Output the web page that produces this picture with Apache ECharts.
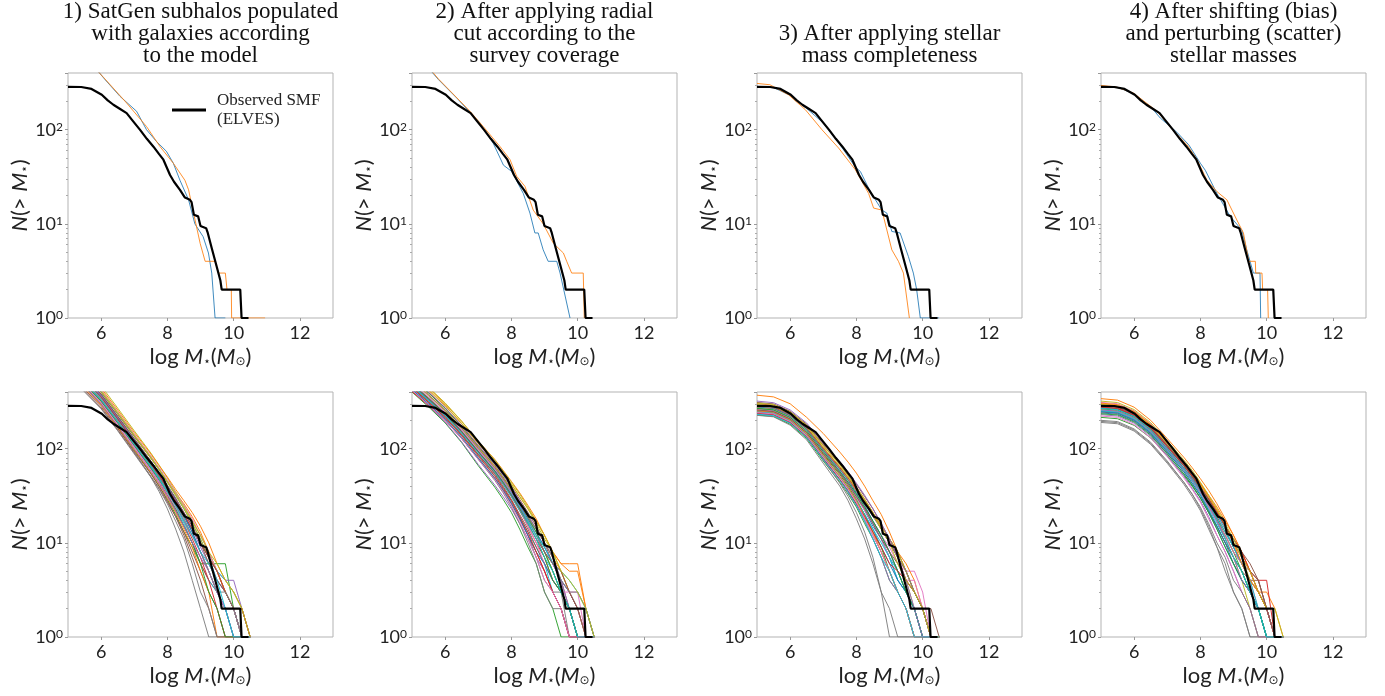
<!DOCTYPE html>
<html><head><meta charset="utf-8">
<script src="https://cdn.jsdelivr.net/npm/echarts@6/dist/echarts.min.js"></script>
<style>html,body{margin:0;padding:0;background:#fff}#c{width:1385px;height:696px}</style>
</head><body><div id="c"></div>
<script>
// ---------------- data ----------------
const TITLES = [
  "1) SatGen subhalos populated\nwith galaxies according\nto the model",
  "2) After applying radial\ncut according to the\nsurvey coverage",
  "3) After applying stellar\nmass completeness",
  "4) After shifting (bias)\nand perturbing (scatter)\nstellar masses"
];
const LEGEND_NAME = "Observed SMF\n(ELVES)";
const X_TICKS = [6, 8, 10, 12];
const Y_MINOR = [2,3,4,5,6,7,8,9,20,30,40,50,60,70,80,90,200,300];

// observed SMF (ELVES), same in every panel
const OBS_X = [5, 5.4, 5.71, 6.02, 6.2, 6.37, 6.55, 6.77, 6.95, 7.17, 7.38, 7.58, 7.75, 7.88, 8.08, 8.2, 8.38, 8.53, 8.68, 8.73, 8.8, 8.93, 9.0, 9.17, 9.22, 9.34, 9.49, 9.6, 9.64, 10.2, 10.24, 10.45];
const OBS_Y = [285, 284, 271, 235, 205, 184, 168, 150, 125, 100, 80, 66, 55, 48, 33, 28, 23, 19, 18, 17, 12.5, 12, 9.5, 9, 8, 5.5, 3.5, 2.5, 2, 2, 1, 1];

// top row: two single realisations per panel
const T1_BLUE_X = [5, 5.5, 5.95, 6.12, 6.57, 7.07, 7.37, 7.67, 7.97, 8.18, 8.38, 8.64, 8.83, 9.08, 9.24, 9.34, 9.44, 9.75];
const T1_BLUE_Y = [950, 610, 400, 340, 226, 157, 100, 75, 59, 44, 29, 18, 10, 7.3, 4.9, 3, 1, 1];
const T1_ORANGE_X = [5, 5.5, 5.95, 6.07, 6.77, 7.37, 7.78, 8.18, 8.53, 8.64, 8.79, 8.99, 9.14, 9.44, 9.54, 9.75, 9.8, 9.93, 9.94, 10.95];
const T1_ORANGE_Y = [900, 590, 400, 360, 192, 108, 66, 44, 29, 23, 13, 6.2, 4, 4, 3, 3, 2, 2, 1, 1];
const T2_BLUE_X = [5, 5.5, 5.8, 6.35, 7.05, 7.45, 7.76, 8.01, 8.36, 8.56, 8.71, 8.81, 8.96, 9.11, 9.37, 9.47, 9.77];
const T2_BLUE_Y = [700, 450, 340, 217, 118, 72, 42, 36, 21, 13, 8, 8, 5.3, 4, 4, 3, 1];
const T2_ORANGE_X = [5, 5.5, 5.8, 6.75, 7.15, 7.66, 7.96, 8.16, 8.41, 8.66, 8.96, 9.27, 9.57, 9.67, 9.82, 10.17, 10.2];
const T2_ORANGE_Y = [700, 460, 345, 157, 108, 66, 48, 32, 25, 14, 10, 6.2, 4.9, 4, 3, 3, 1];
const T3_BLUE_X = [5, 5.5, 6.0, 6.5, 7.0, 7.5, 7.97, 8.12, 8.42, 8.77, 8.92, 9.07, 9.32, 9.57, 9.72, 9.82, 9.93, 10.5];
const T3_BLUE_Y = [288, 280, 232, 168, 118, 70, 40, 36, 22, 14, 13, 8.3, 8, 4.5, 3, 2, 1, 1];
const T3_ORANGE_X = [5, 5.39, 5.95, 6.46, 6.96, 7.46, 7.97, 8.37, 8.52, 8.77, 9.07, 9.27, 9.42, 9.6];
const T3_ORANGE_Y = [310, 300, 235, 163, 100, 64, 37.5, 21, 14.7, 14, 5.3, 4, 3, 1];
const T4_BLUE_X = [5, 5.5, 6.0, 6.5, 6.79, 7.29, 7.65, 8.0, 8.15, 8.5, 8.9, 9.25, 9.4, 9.6, 9.8, 9.82];
const T4_BLUE_Y = [292, 282, 240, 175, 133, 94, 69, 44, 37, 21, 12, 8.6, 5.3, 3, 3, 1];
const T4_ORANGE_X = [5, 5.45, 5.98, 6.69, 7.29, 7.6, 7.9, 8.2, 8.5, 8.8, 9.1, 9.3, 9.46, 9.66, 9.67, 9.86, 9.88, 10.03, 10.05];
const T4_ORANGE_Y = [295, 285, 245, 157, 89, 69, 48, 29, 22, 18, 11, 8, 4, 4, 3, 3, 2, 2, 1];

// bottom row: many realisations on a shared mass grid
const GRID_X = [5, 5.5, 6, 6.5, 7, 7.5, 7.75, 8, 8.25, 8.5, 8.75, 9, 9.25, 9.5, 9.75, 10, 10.25, 10.5];
const B1_LINES = [
  [820,540,360,210,120,70,52,38,27,19,13,8,5,3,2,1,1,1],
  [880,590,395,232,134,79,60,45,34,26,19,13,8,5,3,2,1,1],
  [700,460,300,172,97,55,40,29,20,13,9,6,6,6,6,2,1,1],
  [760,500,330,195,112,64,48,35,25,17,11,7,4,3,2,1,1,1],
  [850,560,370,215,124,72,54,40,29,21,15,10,7,5,4,4,2,1],
  [620,410,270,158,90,51,38,27,19,13,8,5,3,2,1,1,1,1],
  [780,520,345,205,118,68,51,37,26,18,12,8,5,3,2,2,1,1],
  [680,450,295,168,92,50,35,23,14,8,4,2,1,1,1,1,1,1],
  [1050,700,465,270,155,90,67,49,35,25,17,12,8,5,3,2,2,1],
  [740,490,325,190,110,63,47,34,24,16,10,6,4,3,2,1,1,1],
  [900,600,400,235,136,80,60,44,32,23,16,11,7,4,3,2,1,1],
  [660,440,290,170,98,56,42,30,21,14,9,5,3,1,1,1,1,1],
  [800,530,350,205,117,67,50,37,27,19,14,10,7,5,3,2,1,1],
  [720,478,315,185,106,61,45,32,22,15,10,6,4,2,1,1,1,1],
  [830,550,365,212,122,71,53,39,28,20,14,9,6,4,3,2,1,1],
  [640,425,280,164,94,54,40,28,19,12,7,4,2,1,1,1,1,1],
  [960,640,425,248,143,84,63,47,34,25,18,12,8,5,3,2,1,1],
  [600,400,265,155,88,50,37,26,17,11,6,3,2,1,1,1,1,1],
  [920,610,405,238,138,80,60,44,32,23,16,11,7,5,3,2,1,1],
  [790,525,348,203,116,67,50,37,27,19,14,10,7,5,4,3,2,1],
  [860,570,378,220,127,74,55,40,29,20,13,8,5,3,2,2,1,1],
  [990,660,440,258,149,88,66,50,37,28,21,15,10,6,4,3,2,1],
  [730,485,320,188,108,62,46,33,23,15,10,6,3,2,1,1,1,1],
  [810,535,355,208,119,69,52,38,28,20,14,10,7,5,3,2,2,1],
  [680,455,300,176,101,58,43,31,22,15,10,7,5,3,2,1,1,1],
  [870,575,380,222,128,74,55,41,30,21,15,10,6,4,3,2,1,1],
  [700,468,308,181,104,60,45,33,24,17,12,8,5,3,2,2,1,1],
  [760,505,335,196,112,65,49,36,26,18,12,8,5,3,3,2,1,1],
  [940,625,415,243,140,82,61,45,33,24,17,12,8,6,4,3,2,1],
  [750,498,328,192,110,64,48,35,25,17,12,8,6,4,2,1,1,1]
];
const B2_LINES = [
  [470,330,230,150,92,58,44,33,24,17,12,8,5,3,2,1,1,1],
  [640,440,300,195,120,77,59,45,34,25,18,12,8,6,6,6,2,1],
  [400,278,188,116,66,39,29,21,14,9,6,3,2,1,1,1,1,1],
  [440,310,215,140,87,55,42,31,22,15,10,7,4,3,2,1,1,1],
  [410,285,192,118,68,41,31,23,16,11,7,5,3,2,1,1,1,1],
  [560,392,270,175,108,69,53,40,29,21,15,10,6,4,2,1,1,1],
  [500,350,243,158,98,62,47,35,26,18,13,9,6,4,3,2,1,1],
  [450,315,218,140,85,52,39,28,19,12,7,4,3,3,1,1,1,1],
  [520,365,252,163,100,63,48,36,26,18,12,8,5,3,2,1,1,1],
  [430,300,206,132,80,49,37,27,19,13,9,6,3,2,1,1,1,1],
  [480,338,235,152,94,59,45,34,25,18,13,9,6,4,3,2,2,1],
  [600,415,285,184,113,72,55,42,31,23,17,12,8,6,5,5,2,1],
  [560,390,268,172,105,66,50,37,27,19,13,8,5,3,2,1,1,1],
  [405,288,200,128,78,48,36,26,18,12,8,5,3,2,1,1,1,1],
  [490,344,238,155,96,61,46,34,25,17,12,8,6,4,2,1,1,1],
  [455,320,222,143,87,54,40,29,20,14,9,6,4,3,2,1,1,1],
  [510,355,245,158,97,60,45,33,23,15,10,6,4,3,3,3,1,1],
  [420,294,202,128,77,46,34,24,16,10,6,3,2,2,1,1,1,1],
  [620,425,290,186,114,72,55,42,31,23,16,11,8,5,3,2,1,1],
  [470,332,230,149,92,58,44,33,24,17,12,9,6,5,4,3,2,1],
  [425,298,205,131,79,48,36,26,18,12,8,6,4,3,2,1,1,1],
  [540,375,258,167,103,65,49,37,27,19,14,10,7,5,3,2,1,1],
  [490,342,236,152,93,58,44,32,23,16,11,7,4,3,2,1,1,1],
  [445,310,213,137,83,51,38,28,19,13,8,5,3,2,1,1,1,1],
  [580,400,274,176,108,68,52,39,28,20,14,10,7,4,3,2,1,1],
  [480,336,232,150,92,57,43,32,23,16,11,8,6,5,3,2,1,1],
  [415,292,200,128,77,47,35,25,17,11,7,4,3,2,1,1,1,1],
  [530,372,256,165,101,63,48,36,26,19,14,10,7,4,3,3,2,1],
  [660,450,306,196,120,76,58,44,33,24,17,12,8,5,4,3,2,1],
  [460,325,225,146,90,56,42,31,22,16,11,7,5,3,2,1,1,1]
];
const B3_LINES = [
  [265,255,212,150,90,55,42,31,22,15,11,7,4,3,2,1,1,1],
  [370,355,300,215,145,92,72,55,40,28,20,13,8,5,3,2,1,1],
  [228,220,182,128,74,44,33,24,16,11,7,4,3,2,1,1,1,1],
  [300,290,243,176,108,68,52,39,29,21,15,11,7,5,3,2,1,1],
  [280,270,224,160,96,58,44,33,24,17,12,8,5,3,2,1,1,1],
  [240,232,192,135,79,47,35,26,18,12,8,5,3,2,1,1,1,1],
  [255,246,206,148,88,54,41,30,22,16,12,9,6,5,5,3,1,1],
  [245,236,194,135,76,43,31,21,13,7,3,1,1,1,1,1,1,1],
  [290,280,234,168,102,64,49,37,27,20,14,10,7,4,2,1,1,1],
  [270,260,217,155,93,57,43,32,23,16,11,7,4,3,2,1,1,1],
  [250,242,200,141,83,50,38,28,20,14,9,6,4,3,2,1,1,1],
  [275,265,222,160,98,61,47,36,27,20,15,11,8,6,4,2,1,1],
  [260,250,208,147,87,53,40,29,20,13,9,5,3,2,1,1,1,1],
  [285,275,230,166,101,63,49,37,28,20,14,10,7,4,3,2,1,1],
  [235,227,188,132,77,46,34,25,17,11,7,4,3,2,1,1,1,1],
  [310,299,250,182,112,71,55,42,31,23,16,11,8,5,3,2,1,1],
  [262,252,210,150,90,55,42,31,23,16,11,7,5,4,4,2,1,1],
  [226,218,178,124,70,40,28,18,11,6,3,2,1,1,1,1,1,1],
  [305,294,246,178,108,68,52,39,29,21,15,11,8,5,3,2,1,1],
  [248,240,199,140,83,50,38,28,20,14,10,7,5,3,2,1,1,1],
  [278,268,224,161,97,60,46,34,25,17,12,8,5,3,2,2,1,1],
  [252,244,202,143,85,51,39,28,19,13,8,5,3,2,1,1,1,1],
  [268,258,215,154,93,57,44,33,24,17,12,8,5,3,2,1,1,1],
  [238,230,190,134,79,47,36,26,19,13,9,6,5,4,3,2,1,1],
  [320,308,258,187,115,73,57,43,32,23,16,11,7,4,2,1,1,1],
  [258,248,207,148,89,55,42,31,23,16,11,8,6,4,3,2,2,1],
  [242,234,194,137,81,49,37,27,18,12,8,5,3,2,1,1,1,1],
  [282,272,228,163,98,61,47,35,26,19,14,10,7,5,3,2,1,1],
  [295,285,238,172,104,65,50,38,28,20,14,10,6,4,3,2,1,1],
  [232,224,186,131,77,46,35,25,17,11,7,5,3,2,1,1,1,1]
];
const B4_LINES = [
  [270,262,222,160,100,62,48,36,26,18,11,7,5,3,2,1,1,1],
  [340,328,276,200,128,81,63,48,36,26,18,12,8,5,3,2,1,1],
  [215,208,177,130,84,52,40,30,21,15,10,7,5,3,2,1,1,1],
  [250,242,205,150,96,60,46,34,24,17,12,8,6,4,3,2,1,1],
  [290,280,237,172,110,69,53,40,29,20,14,9,6,4,3,2,1,1],
  [245,237,200,145,92,57,43,32,22,15,10,7,5,4,4,2,1,1],
  [310,300,253,184,118,74,57,43,31,22,15,10,6,4,2,1,1,1],
  [190,184,154,111,70,42,31,22,14,9,5,3,2,1,1,1,1,1],
  [260,251,213,155,98,61,47,35,25,17,11,7,4,2,1,1,1,1],
  [280,270,229,166,106,66,51,38,28,20,14,9,6,4,3,2,1,1],
  [240,232,196,142,89,54,41,30,21,14,9,6,4,3,2,1,1,1],
  [300,289,245,178,114,72,56,43,32,24,17,12,8,5,3,3,2,1],
  [265,256,217,158,100,62,48,36,26,18,12,8,5,3,2,1,1,1],
  [285,275,233,170,108,68,52,39,29,21,15,10,7,5,4,4,1,1],
  [230,222,187,135,85,51,38,28,19,12,8,5,3,2,1,1,1,1],
  [275,266,225,164,104,65,50,37,27,19,13,9,6,5,4,2,1,1],
  [255,247,209,152,97,60,46,34,24,17,12,8,6,4,3,2,1,1],
  [200,194,162,117,74,44,33,23,15,9,6,3,2,1,1,1,1,1],
  [295,285,241,175,112,70,54,41,30,22,15,10,7,4,3,2,1,1],
  [268,259,219,159,101,63,48,36,26,18,13,9,6,4,2,1,1,1],
  [248,240,202,147,93,57,43,32,22,15,10,6,4,3,2,1,1,1],
  [305,294,249,181,116,73,56,42,31,22,15,10,6,4,3,2,1,1],
  [235,228,192,139,88,54,41,30,21,14,9,6,4,3,2,1,1,1],
  [278,268,227,165,105,66,51,39,29,21,15,11,8,5,3,2,1,1],
  [258,250,211,154,98,61,47,35,25,17,11,7,4,3,2,2,1,1],
  [288,278,235,171,109,68,52,39,29,21,15,11,8,6,4,2,1,1],
  [222,215,180,130,82,49,37,27,18,12,8,5,3,2,1,1,1,1],
  [195,189,158,114,72,44,33,24,16,10,7,4,3,2,1,1,1,1],
  [320,309,260,189,121,76,59,44,32,23,16,11,7,5,3,2,2,1],
  [252,244,206,150,95,59,45,33,23,16,11,7,5,3,2,1,1,1]
];

// ---------------- layout / style ----------------
const TAB10 = ['#1f77b4','#ff7f0e','#2ca02c','#d62728','#9467bd','#8c564b','#e377c2','#7f7f7f','#bcbd22','#17becf'];
const COL_LEFT = [68, 412, 757, 1101];
const ROW_TOP = [73, 392];
const PW = 265, PH = 245;
const SANS = 'Lato';
const SERIF = 'Liberation Serif';

const pairs = (xs, ys) => xs.map((x, i) => [x, ys[i]]);
const TOP_LINES = [
  [pairs(T1_BLUE_X, T1_BLUE_Y), pairs(T1_ORANGE_X, T1_ORANGE_Y)],
  [pairs(T2_BLUE_X, T2_BLUE_Y), pairs(T2_ORANGE_X, T2_ORANGE_Y)],
  [pairs(T3_BLUE_X, T3_BLUE_Y), pairs(T3_ORANGE_X, T3_ORANGE_Y)],
  [pairs(T4_BLUE_X, T4_BLUE_Y), pairs(T4_ORANGE_X, T4_ORANGE_Y)]
];
const BOTTOM_LINES = [B1_LINES, B2_LINES, B3_LINES, B4_LINES].map(set => set.map(ys => pairs(GRID_X, ys)));
const OBS = pairs(OBS_X, OBS_Y);

const grids = [], xAxes = [], yAxes = [], series = [], graphics = [];
const subStyle = {fontSize: 12, fontFamily: 'DejaVu Sans', verticalAlign: 'bottom', color: '#222'};
const italic = {fontStyle: 'italic', fontFamily: SANS, fontSize: 22, color: '#222'};
for (let r = 0; r < 2; r++) {
  for (let c = 0; c < 4; c++) {
    const idx = r * 4 + c;
    grids.push({left: COL_LEFT[c], top: ROW_TOP[r], width: PW, height: PH, show: true,
      borderColor: '#b3b3b3', borderWidth: 1, backgroundColor: 'transparent'});
    xAxes.push({gridIndex: idx, type: 'value', min: 5, max: 13,
      axisLine: {show: false}, splitLine: {show: false},
      axisTick: {show: true, customValues: X_TICKS, length: 3, lineStyle: {color: '#999'}},
      axisLabel: {customValues: X_TICKS, fontFamily: SANS, fontSize: 18, color: '#222', margin: 6},
      name: 'log {i|M}{s|⋆}({i|M}{s|⊙})', nameLocation: 'middle', nameGap: 28,
      nameTextStyle: {fontFamily: SANS, fontSize: 22, color: '#222', rich: {i: italic, s: subStyle}}
    });
    yAxes.push({gridIndex: idx, type: 'log', logBase: 10, min: 1, max: 400,
      axisLine: {show: false}, splitLine: {show: false},
      axisTick: {show: true, length: 3, lineStyle: {color: '#999'}},
      axisLabel: {margin: 5, formatter: v => {
          const e = Math.log10(v), k = Math.round(e);
          return Math.abs(e - k) < 1e-6 ? '{b|10}{s|' + k + '}' : '';
        },
        rich: {b: {fontFamily: SANS, fontSize: 18, color: '#222'},
               s: {fontFamily: SANS, fontSize: 12, color: '#222', verticalAlign: 'top'}}},
      name: '{i|N}(> {i|M}{s|⋆})', nameLocation: 'middle', nameGap: 36,
      nameTextStyle: {fontFamily: SANS, fontSize: 22, color: '#222', rich: {i: italic, s: subStyle}}
    });
    const lines = r === 0 ? TOP_LINES[c] : BOTTOM_LINES[c];
    lines.forEach((d, k) => {
      series.push({type: 'line', name: 'r' + idx + '_' + k, xAxisIndex: idx, yAxisIndex: idx,
        data: d, showSymbol: false, symbol: 'none', silent: true, clip: true,
        lineStyle: {width: 1, color: TAB10[k % 10], opacity: r === 0 ? 0.85 : 0.95},
        itemStyle: {color: TAB10[k % 10]}, z: 2});
    });
    series.push({type: 'line', name: LEGEND_NAME, xAxisIndex: idx, yAxisIndex: idx,
      data: OBS, showSymbol: false, symbol: 'none', silent: true, clip: true,
      lineStyle: {width: 2.2, color: '#000'}, itemStyle: {color: '#000'}, z: 5});
  }
}
// minor ticks on extra log axes
for (let idx = 0; idx < 8; idx++) {
  yAxes.push({gridIndex: idx, type: 'log', logBase: 10, min: 1, max: 400, position: 'left',
    axisLine: {show: false}, splitLine: {show: false}, axisLabel: {show: false},
    axisTick: {show: true, customValues: Y_MINOR, length: 2, lineStyle: {color: '#aaa'}}});
}
TITLES.forEach((t, c) => {
  graphics.push({type: 'text', x: COL_LEFT[c] + PW / 2, y: 67, silent: true,
    style: {text: t, align: 'center', verticalAlign: 'bottom', fontFamily: SERIF, fontSize: 23,
      lineHeight: 22, fill: '#111'}});
});

const chart = echarts.init(document.getElementById('c'), null, {renderer: 'canvas'});
chart.setOption({
  animation: false,
  backgroundColor: '#fff',
  grid: grids, xAxis: xAxes, yAxis: yAxes, series: series, graphic: graphics,
  legend: {data: [LEGEND_NAME], left: 167, top: 86, icon: 'rect', itemWidth: 34, itemHeight: 3,
    selectedMode: false,
    textStyle: {fontFamily: SERIF, fontSize: 17, lineHeight: 19, color: '#222', padding: [0, 0, 0, 6]}}
});
</script></body></html>
